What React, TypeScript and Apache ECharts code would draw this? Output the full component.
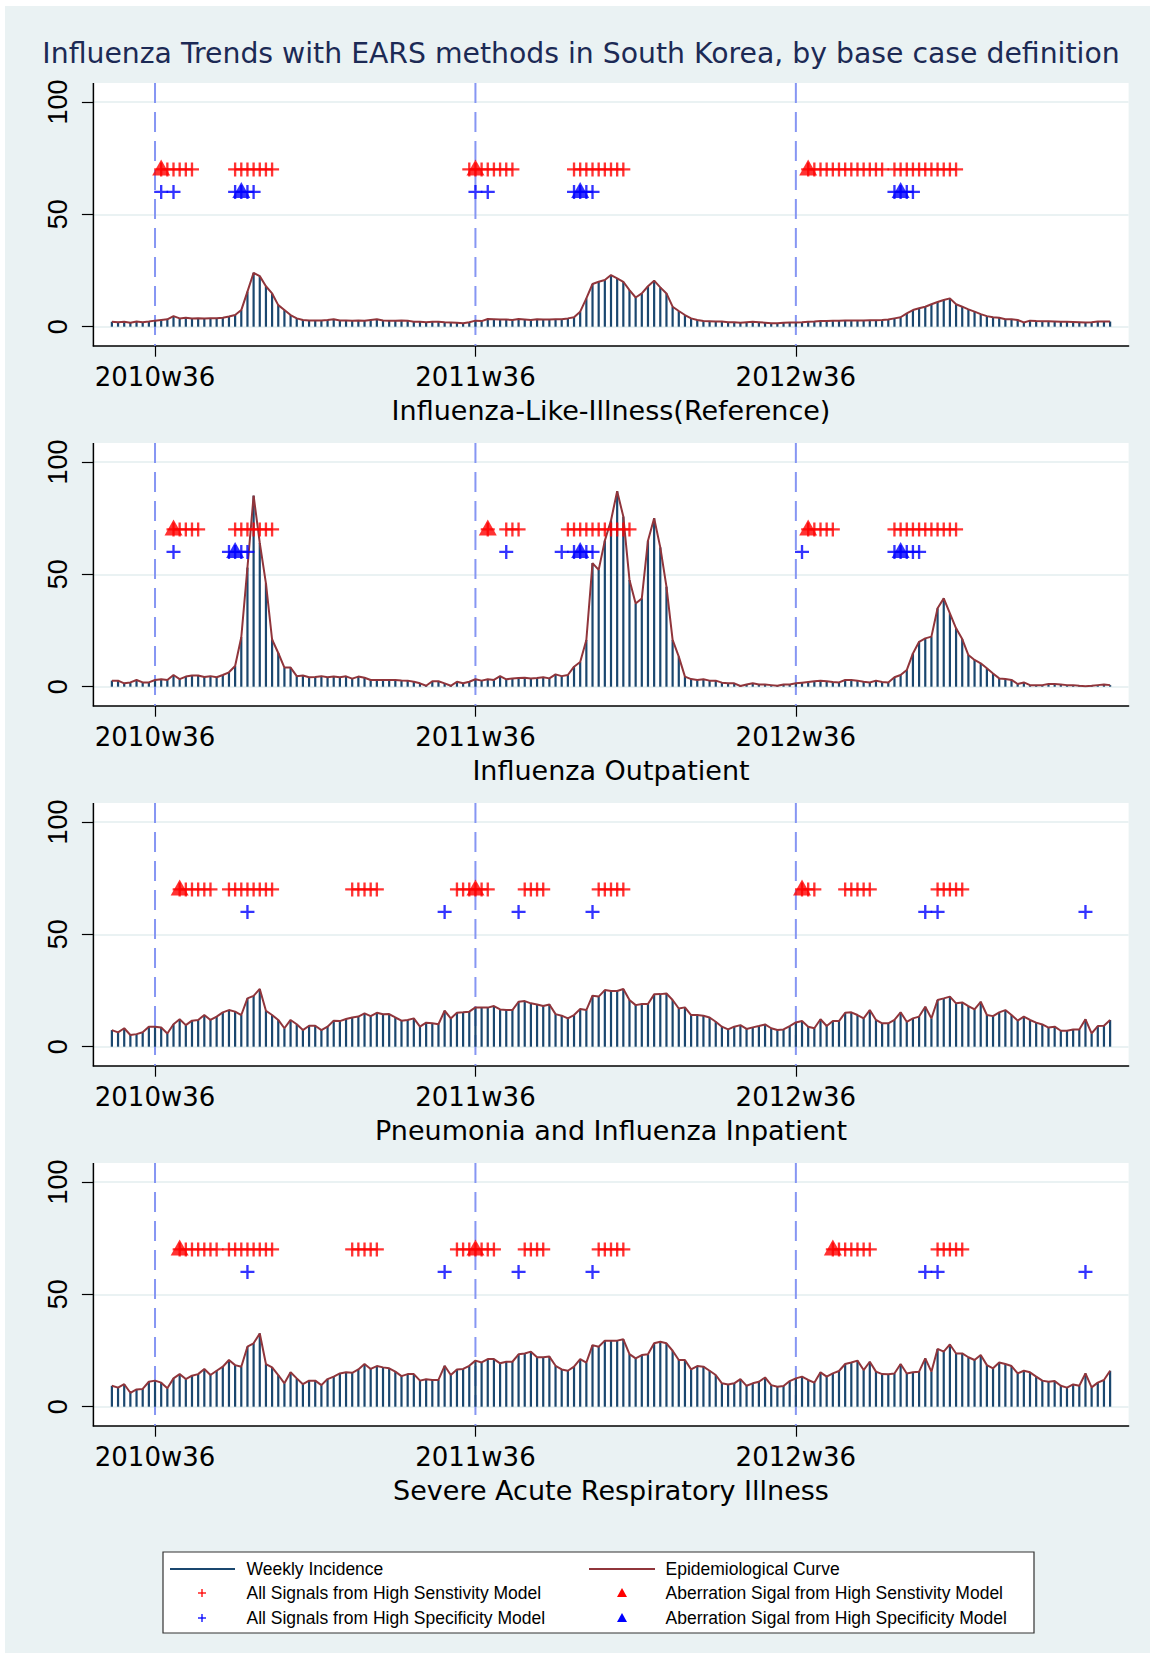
import React, { useEffect, useRef } from "react";
import * as echarts from "echarts";

// ---- Data (week index 0 = 2010w36; first observation is week -7 = 2010w29) ----
const START_WEEK = -7;
const tickWeeks = [0, 52, 104];
const tickLabels = ["2010w36", "2011w36", "2012w36"];
const SENS_LEVEL = 70;
const SPEC_LEVEL = 60;

const panelTitles = [
  "Influenza-Like-Illness(Reference)",
  "Influenza Outpatient",
  "Pneumonia and Influenza Inpatient",
  "Severe Acute Respiratory Illness",
];

const iliValues = [
  2.2, 2.0, 2.2, 1.8, 2.3, 2.0, 2.3, 2.7, 3.0, 3.3,
  4.7, 3.7, 4.0, 3.7, 3.8, 3.7, 3.8, 3.8, 4.0, 4.5,
  5.2, 7.4, 15.6, 24.0, 22.5, 18.0, 14.8, 9.6, 7.4, 5.2,
  3.7, 3.0, 2.8, 2.8, 2.8, 3.0, 3.3, 2.8, 2.8, 2.7,
  2.8, 2.7, 3.0, 3.3, 2.8, 2.7, 2.7, 2.8, 2.7, 2.2,
  2.2, 2.0, 2.2, 2.2, 2.0, 1.9, 1.8, 1.5, 2.0, 2.7,
  2.5, 3.4, 3.3, 3.2, 3.2, 3.0, 3.4, 3.2, 3.0, 3.3,
  3.2, 3.2, 3.3, 3.3, 3.7, 4.2, 6.7, 12.6, 19.0, 20.0,
  20.8, 23.0, 21.5, 20.0, 16.3, 13.0, 14.8, 18.0, 20.5, 17.5,
  14.8, 8.9, 7.0, 5.2, 3.7, 3.0, 2.5, 2.4, 2.3, 2.3,
  2.0, 2.0, 1.8, 2.0, 2.2, 2.0, 1.8, 1.5, 1.5, 1.8,
  1.9, 1.9, 2.0, 2.2, 2.3, 2.5, 2.5, 2.7, 2.7, 2.8,
  2.8, 2.8, 2.8, 2.9, 2.9, 3.0, 3.2, 3.7, 4.2, 5.9,
  7.4, 8.2, 8.9, 10.0, 11.0, 11.9, 12.6, 10.0, 8.9, 7.7,
  6.7, 5.6, 4.7, 4.2, 4.0, 3.3, 3.3, 3.0, 1.9, 2.7,
  2.5, 2.4, 2.4, 2.3, 2.2, 2.2, 2.1, 2.0, 1.9, 2.0,
  2.3, 2.3, 2.3,
];

const outpatientValues = [
  2.7, 2.7, 1.5, 1.9, 3.0, 1.9, 1.9, 3.0, 3.3, 3.0,
  5.2, 3.4, 4.5, 5.0, 5.0, 4.3, 4.7, 4.2, 5.2, 6.4,
  9.2, 22.0, 53.0, 85.0, 64.0, 46.0, 21.0, 15.0, 8.5, 8.5,
  4.7, 5.0, 4.2, 4.3, 4.7, 4.2, 4.5, 4.2, 4.6, 3.6,
  4.5, 4.0, 3.0, 3.0, 3.0, 3.0, 3.0, 2.8, 2.7, 2.2,
  1.5, 0.4, 2.4, 2.4, 1.5, 0.4, 2.2, 1.5, 2.2, 3.3,
  2.7, 3.3, 3.0, 4.7, 3.3, 3.6, 3.9, 4.0, 3.7, 3.9,
  4.2, 3.7, 5.5, 4.7, 5.2, 8.9, 11.0, 20.8, 55.0, 52.0,
  65.0, 74.0, 87.0, 75.7, 47.5, 37.0, 39.3, 65.0, 75.0, 62.0,
  44.5, 20.8, 13.4, 4.5, 3.4, 3.0, 3.3, 2.7, 2.7, 1.8,
  1.5, 1.5, 0.3, 1.0, 1.5, 1.0, 1.0, 0.7, 0.4, 1.0,
  1.0, 1.5, 1.8, 2.1, 2.4, 2.7, 2.4, 2.1, 1.9, 3.0,
  3.0, 2.7, 2.2, 1.9, 2.7, 2.1, 1.9, 4.2, 5.2, 7.4,
  14.8, 20.0, 21.5, 22.3, 34.9, 39.3, 32.6, 26.0, 21.2, 14.1,
  11.9, 10.4, 8.2, 5.9, 3.7, 3.4, 3.0, 1.2, 1.9, 0.7,
  0.7, 0.7, 1.2, 1.2, 1.0, 0.7, 0.7, 0.4, 0.2, 0.4,
  0.7, 1.0, 0.7,
];

const piInpatientValues = [
  7.4, 6.4, 8.2, 5.2, 5.6, 6.4, 8.9, 8.9, 8.5, 5.9,
  10.0, 12.2, 9.6, 11.6, 11.9, 14.1, 11.9, 13.4, 15.3, 16.3,
  15.6, 14.1, 21.5, 22.6, 25.7, 16.0, 14.1, 11.9, 8.2, 11.9,
  10.0, 7.4, 9.3, 9.3, 7.4, 8.9, 11.6, 11.4, 12.3, 13.0,
  13.4, 14.8, 13.6, 15.1, 14.4, 14.5, 13.0, 11.6, 11.9, 12.6,
  8.9, 10.7, 10.4, 10.0, 16.0, 12.6, 15.1, 15.3, 15.6, 17.5,
  17.4, 17.4, 18.1, 16.6, 16.3, 16.3, 20.0, 20.3, 19.3, 18.8,
  18.1, 18.8, 14.5, 13.8, 12.6, 14.1, 16.8, 16.3, 22.7, 22.3,
  25.2, 24.8, 24.8, 25.7, 20.8, 18.5, 19.0, 19.0, 23.3, 23.4,
  23.7, 20.8, 17.0, 17.5, 14.1, 14.1, 13.8, 13.0, 11.1, 8.9,
  7.7, 8.9, 9.6, 7.9, 8.6, 9.2, 9.9, 8.2, 7.4, 7.7,
  9.2, 10.8, 11.4, 8.9, 8.2, 12.2, 9.2, 11.4, 11.4, 15.1,
  15.3, 14.1, 12.6, 16.3, 11.9, 10.4, 10.4, 11.9, 15.3, 11.1,
  12.6, 13.4, 17.8, 12.6, 20.8, 21.5, 22.3, 19.3, 19.7, 18.1,
  16.6, 20.0, 14.1, 13.6, 15.3, 16.3, 14.1, 11.6, 13.4, 11.9,
  10.7, 9.9, 8.5, 8.9, 7.1, 7.1, 7.7, 7.7, 12.2, 5.9,
  9.2, 9.3, 11.9,
];

const sariValues = [
  9.3, 8.5, 10.0, 6.2, 7.7, 7.9, 11.1, 11.6, 10.7, 8.2,
  12.6, 14.5, 12.3, 13.8, 14.5, 16.8, 14.1, 16.0, 17.8, 20.8,
  18.5, 17.8, 26.7, 28.2, 32.6, 19.0, 17.5, 14.1, 10.4, 15.3,
  12.6, 10.0, 11.6, 11.6, 9.6, 12.3, 13.4, 14.8, 15.3, 15.1,
  16.6, 19.0, 16.8, 18.1, 17.5, 17.1, 15.6, 13.6, 14.5, 14.5,
  11.6, 12.2, 11.9, 11.9, 18.2, 14.1, 16.6, 16.8, 18.2, 20.5,
  19.7, 21.2, 21.2, 19.3, 20.0, 20.0, 23.3, 23.7, 24.5, 22.0,
  22.0, 22.3, 18.2, 16.6, 16.0, 17.8, 21.2, 19.6, 27.4, 26.7,
  29.4, 29.4, 29.4, 30.0, 23.4, 21.5, 23.0, 23.3, 28.2, 28.9,
  28.2, 24.9, 20.8, 20.8, 16.6, 18.1, 17.8, 16.0, 14.1, 10.4,
  9.9, 10.4, 12.3, 9.3, 10.4, 11.1, 13.0, 9.6, 8.9, 9.2,
  11.4, 12.6, 13.4, 11.9, 10.7, 15.3, 13.4, 14.8, 15.9, 19.0,
  19.7, 20.5, 16.3, 20.0, 15.6, 14.5, 14.4, 14.8, 19.0, 14.8,
  15.3, 15.6, 21.5, 15.6, 25.7, 24.5, 27.7, 23.7, 23.7, 22.0,
  20.8, 23.0, 18.5, 17.1, 19.7, 19.0, 18.1, 14.8, 16.0, 15.3,
  13.4, 11.6, 11.1, 11.4, 9.3, 8.5, 9.9, 9.3, 14.8, 8.6,
  10.7, 11.9, 16.0,
];

// Signal weeks (week index, 0 = 2010w36)
const iliSensAll = [1, 2, 3, 4, 5, 6, 13, 14, 15, 16, 17, 18, 19, 51, 52, 53, 54, 55, 56, 57, 58, 68, 69, 70, 71, 72, 73, 74, 75, 76, 106, 107, 108, 109, 110, 111, 112, 113, 114, 115, 116, 117, 118, 120, 121, 122, 123, 124, 125, 126, 127, 128, 129, 130];
const iliSensAberr = [1, 52, 106];
const iliSpecAll = [1, 3, 13, 14, 15, 16, 52, 54, 68, 69, 70, 71, 120, 121, 122, 123];
const iliSpecAberr = [14, 69, 121];

const opSensAll = [3, 4, 5, 6, 7, 13, 14, 15, 16, 17, 18, 19, 54, 57, 58, 59, 67, 68, 69, 70, 71, 72, 73, 74, 75, 76, 77, 106, 107, 108, 109, 110, 120, 121, 122, 123, 124, 125, 126, 127, 128, 129, 130];
const opSensAberr = [3, 54, 106];
const opSpecAll = [3, 12, 13, 14, 15, 57, 66, 68, 69, 70, 71, 105, 120, 121, 122, 123, 124];
const opSpecAberr = [13, 69, 121];

const piSensAll = [4, 5, 6, 7, 8, 9, 12, 13, 14, 15, 16, 17, 18, 19, 32, 33, 34, 35, 36, 49, 50, 51, 52, 53, 54, 60, 61, 62, 63, 72, 73, 74, 75, 76, 105, 106, 107, 112, 113, 114, 115, 116, 127, 128, 129, 130, 131];
const piSensAberr = [4, 52, 105];
const piSpecAll = [15, 47, 59, 71, 125, 127, 151];
const piSpecAberr: number[] = [];

const sariSensAll = [4, 5, 6, 7, 8, 9, 10, 12, 13, 14, 15, 16, 17, 18, 19, 32, 33, 34, 35, 36, 49, 50, 51, 52, 53, 54, 55, 60, 61, 62, 63, 72, 73, 74, 75, 76, 110, 111, 112, 113, 114, 115, 116, 127, 128, 129, 130, 131];
const sariSensAberr = [4, 52, 110];
const sariSpecAll = [15, 47, 59, 71, 125, 127, 151];
const sariSpecAberr: number[] = [];

const legendLabels = [
  "Weekly Incidence",
  "Epidemiological Curve",
  "All Signals from High Senstivity Model",
  "Aberration Sigal from High Senstivity Model",
  "All Signals from High Specificity Model",
  "Aberration Sigal from High Specificity Model",
];

const TITLE = "Influenza Trends with EARS methods in South Korea, by base case definition";

// ---- Styles ----
const NAVY = "#1a476f";
const MAROON = "#90353b";
const RED = "#ff0000";
const BLUE = "#0000ff";
const REF = "#8696f3";
const BG = "#eaf2f3";
const TITLE_COLOR = "#1c2a55";
const FONT = '"Liberation Sans", Arial, Helvetica, sans-serif';
const WIDE_FONT = '"DejaVu Sans", "Liberation Sans", Arial, sans-serif';
const PLUS = "path://M5,0H7V5H12V7H7V12H5V7H0V5H5Z";

const panels = [
  { title: panelTitles[0], values: iliValues, sensAll: iliSensAll, sensAberr: iliSensAberr, specAll: iliSpecAll, specAberr: iliSpecAberr },
  { title: panelTitles[1], values: outpatientValues, sensAll: opSensAll, sensAberr: opSensAberr, specAll: opSpecAll, specAberr: opSpecAberr },
  { title: panelTitles[2], values: piInpatientValues, sensAll: piSensAll, sensAberr: piSensAberr, specAll: piSpecAll, specAberr: piSpecAberr },
  { title: panelTitles[3], values: sariValues, sensAll: sariSensAll, sensAberr: sariSensAberr, specAll: sariSpecAll, specAberr: sariSpecAberr },
];

export default function App() {
  const ref = useRef<HTMLDivElement>(null);

  useEffect(() => {
    if (!ref.current) return;
    const chart = echarts.init(ref.current, null, { renderer: "svg" });

    const X_MIN = -10;
    const X_MAX = 158;
    const Y_LOW = -8.5;
    const Y_HIGH = 108.5;
    const PITCH = 360;
    const GRID_LEFT = 93.4;
    const GRID_W = 1035.2;
    const GRID_TOP0 = 102;
    const GRID_H = 224.7;
    const AX_OFF = 19;

    const grids: any[] = [];
    const xAxes: any[] = [];
    const yAxes: any[] = [];
    const series: any[] = [];
    const graphics: any[] = [];

    graphics.push({
      type: "rect",
      shape: { x: 5, y: 6, width: 1145, height: 1660 },
      style: { fill: BG },
      z: -20,
      silent: true,
    });

    graphics.push({
      type: "text",
      x: 581,
      y: 53,
      style: {
        text: TITLE,
        fill: TITLE_COLOR,
        font: `28.3px ${WIDE_FONT}`,
        align: "center",
        verticalAlign: "middle",
      },
      z: 10,
    });

    panels.forEach((p, i) => {
      const top = GRID_TOP0 + i * PITCH;
      grids.push({ left: GRID_LEFT, top, width: GRID_W, height: GRID_H, containLabel: false });

      graphics.push({
        type: "rect",
        shape: { x: GRID_LEFT, y: top - AX_OFF, width: GRID_W, height: GRID_H + 2 * AX_OFF },
        style: { fill: "#ffffff" },
        z: -10,
        silent: true,
      });
      graphics.push({
        type: "line",
        shape: { x1: GRID_LEFT, y1: top - AX_OFF, x2: GRID_LEFT, y2: top + GRID_H + AX_OFF + 0.75 },
        style: { stroke: "#000", lineWidth: 1.5 },
        z: 10,
        silent: true,
      });

      xAxes.push({
        gridIndex: i,
        type: "value",
        min: X_MIN,
        max: X_MAX,
        offset: AX_OFF,
        axisLine: { show: true, onZero: false, lineStyle: { color: "#000", width: 1.5 } },
        axisTick: { show: true, customValues: tickWeeks, length: 11, lineStyle: { color: "#000", width: 1.2 } },
        axisLabel: {
          show: true,
          customValues: tickWeeks,
          formatter: (v: number) => tickLabels[tickWeeks.indexOf(v)] ?? "",
          fontSize: 26,
          color: "#000",
          fontFamily: WIDE_FONT,
          margin: 18,
        },
        splitLine: { show: false },
        name: p.title,
        nameLocation: "middle",
        nameGap: 51,
        nameTextStyle: { fontSize: 27, color: "#000", fontFamily: WIDE_FONT },
      });

      yAxes.push({
        gridIndex: i,
        type: "value",
        min: 0,
        max: 100,
        interval: 50,
        axisLine: { show: false, onZero: false },
        axisTick: { show: true, length: 11.5, lineStyle: { color: "#000", width: 1.2 } },
        axisLabel: { show: true, rotate: 90, fontSize: 27, margin: 22, color: "#000", fontFamily: FONT },
        splitLine: { show: true, lineStyle: { color: BG, width: 2 } },
      });

      tickWeeks.forEach((w) => {
        series.push({
          type: "line",
          xAxisIndex: i,
          yAxisIndex: i,
          data: [[w, Y_HIGH], [w, Y_LOW]],
          clip: false,
          symbol: "none",
          silent: true,
          lineStyle: { color: REF, width: 2, type: [20, 9] },
          z: 1,
        });
      });

      const pts = p.values.map((v, k) => [START_WEEK + k, v]);
      series.push({
        name: legendLabels[0],
        type: "bar",
        xAxisIndex: i,
        yAxisIndex: i,
        data: pts,
        barWidth: 2.2,
        itemStyle: { color: NAVY },
        silent: true,
        z: 2,
      });
      series.push({
        name: legendLabels[1],
        type: "line",
        xAxisIndex: i,
        yAxisIndex: i,
        data: pts,
        symbol: "none",
        silent: true,
        lineStyle: { color: MAROON, width: 2 },
        z: 3,
      });
      series.push({
        name: legendLabels[2],
        type: "scatter",
        xAxisIndex: i,
        yAxisIndex: i,
        data: p.sensAll.map((w) => [w, SENS_LEVEL]),
        symbol: PLUS,
        symbolSize: 14,
        itemStyle: { color: RED },
        silent: true,
        z: 4,
      });
      series.push({
        name: legendLabels[3],
        type: "scatter",
        xAxisIndex: i,
        yAxisIndex: i,
        data: p.sensAberr.map((w) => [w, SENS_LEVEL]),
        symbol: "triangle",
        symbolSize: [18, 16],
        symbolOffset: [0, -2],
        itemStyle: { color: RED },
        silent: true,
        z: 5,
      });
      series.push({
        name: legendLabels[4],
        type: "scatter",
        xAxisIndex: i,
        yAxisIndex: i,
        data: p.specAll.map((w) => [w, SPEC_LEVEL]),
        symbol: PLUS,
        symbolSize: 14,
        itemStyle: { color: BLUE },
        silent: true,
        z: 4,
      });
      series.push({
        name: legendLabels[5],
        type: "scatter",
        xAxisIndex: i,
        yAxisIndex: i,
        data: p.specAberr.map((w) => [w, SPEC_LEVEL]),
        symbol: "triangle",
        symbolSize: [18, 16],
        symbolOffset: [0, -2],
        itemStyle: { color: BLUE },
        silent: true,
        z: 5,
      });
    });

    // ---- Legend (drawn box) ----
    const LX = 163, LY = 1552, LW = 871, LH = 81;
    const rows = [1569, 1593, 1618];
    const col1Key = 202, col2Key = 622;
    const col1Text = 246.5, col2Text = 665.5;
    graphics.push({
      type: "rect",
      shape: { x: LX, y: LY, width: LW, height: LH },
      style: { fill: "#fff", stroke: "#333", lineWidth: 1.2 },
      z: 10,
      silent: true,
    });
    const textStyle = (text: string) => ({ text, fill: "#000", font: `17.5px ${FONT}`, align: "left", verticalAlign: "middle" });
    graphics.push({ type: "line", shape: { x1: 170, y1: rows[0], x2: 235, y2: rows[0] }, style: { stroke: NAVY, lineWidth: 2 }, z: 11 });
    graphics.push({ type: "line", shape: { x1: 589, y1: rows[0], x2: 655, y2: rows[0] }, style: { stroke: MAROON, lineWidth: 2 }, z: 11 });
    const plusKey = (cx: number, cy: number, color: string) => [
      { type: "line", shape: { x1: cx - 4, y1: cy, x2: cx + 4, y2: cy }, style: { stroke: color, lineWidth: 1.3 }, z: 11 },
      { type: "line", shape: { x1: cx, y1: cy - 4, x2: cx, y2: cy + 4 }, style: { stroke: color, lineWidth: 1.3 }, z: 11 },
    ];
    const triKey = (cx: number, cy: number, color: string) => ({
      type: "polygon",
      shape: { points: [[cx, cy - 5], [cx + 5, cy + 4], [cx - 5, cy + 4]] },
      style: { fill: color },
      z: 11,
    });
    graphics.push(...plusKey(col1Key, rows[1], RED));
    graphics.push(...plusKey(col1Key, rows[2], BLUE));
    graphics.push(triKey(col2Key, rows[1], RED));
    graphics.push(triKey(col2Key, rows[2], BLUE));
    graphics.push({ type: "text", x: col1Text, y: rows[0], style: textStyle(legendLabels[0]), z: 11 });
    graphics.push({ type: "text", x: col2Text, y: rows[0], style: textStyle(legendLabels[1]), z: 11 });
    graphics.push({ type: "text", x: col1Text, y: rows[1], style: textStyle(legendLabels[2]), z: 11 });
    graphics.push({ type: "text", x: col2Text, y: rows[1], style: textStyle(legendLabels[3]), z: 11 });
    graphics.push({ type: "text", x: col1Text, y: rows[2], style: textStyle(legendLabels[4]), z: 11 });
    graphics.push({ type: "text", x: col2Text, y: rows[2], style: textStyle(legendLabels[5]), z: 11 });

    chart.setOption({
      animation: false,
      backgroundColor: "#ffffff",
      textStyle: { fontFamily: FONT },
      grid: grids,
      xAxis: xAxes,
      yAxis: yAxes,
      series,
      graphic: { elements: graphics },
    });

    return () => {
      chart.dispose();
    };
  }, []);

  return (
    <div
      ref={ref}
      style={{ position: "absolute", left: 0, top: 0, width: 1153, height: 1653 }}
    />
  );
}
